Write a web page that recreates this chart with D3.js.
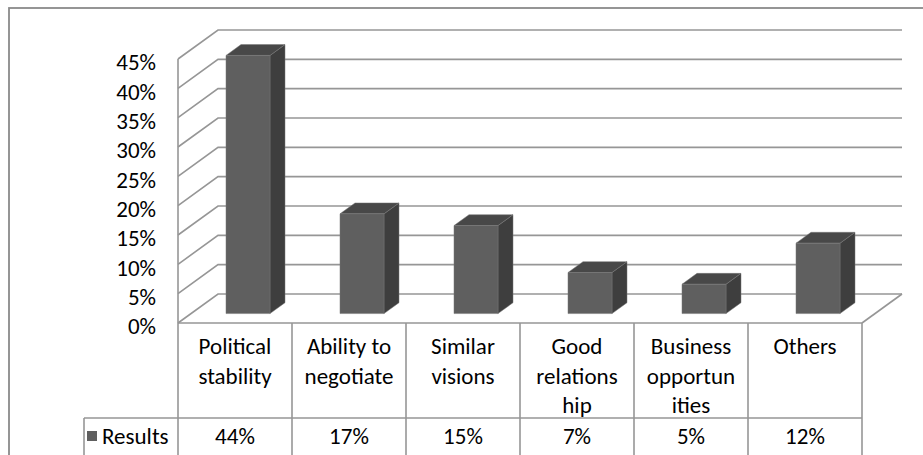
<!DOCTYPE html>
<html>
<head>
<meta charset="utf-8">
<script src="https://cdn.jsdelivr.net/npm/d3@7"></script>
<style>
  body { margin: 0; background: #fff; }
  svg text { font-family: Carlito, Calibri, Lato, "Open Sans", sans-serif; fill: #000; }
</style>
</head>
<body>
<svg id="chart" width="923" height="455"></svg>
<script>
// data
const categories = ['Political stability', 'Ability to negotiate', 'Similar visions',
  'Good relationship', 'Business opportunities', 'Others'];
const categoryLines = [['Political', 'stability'], ['Ability to', 'negotiate'], ['Similar', 'visions'],
  ['Good', 'relations', 'hip'], ['Business', 'opportun', 'ities'], ['Others']];
const results = [0.44, 0.17, 0.15, 0.07, 0.05, 0.12];
const seriesName = 'Results';
const yTicks = [0, 0.05, 0.10, 0.15, 0.20, 0.25, 0.30, 0.35, 0.40, 0.45];

const svg = d3.select('#chart');
const fontSize = 23;

// plot geometry (front plane)
const left = 178, right = 862, floorY = 323, topY = 59;
const depthX = 40, depthY = -29;   // full depth of the 3d box
const grid = '#969696';

const x = d3.scaleBand().domain(categories).range([left, right]);
const y = d3.scaleLinear().domain([0, 0.45]).range([floorY, topY]);
const pct = d3.format('.0%');

// point at front-plane (px, py) pushed back by depth fraction d
const P = (px, py, d) => [px + depthX * d, py + depthY * d];

// outer border
svg.append('rect')
  .attr('x', 9).attr('y', 8).attr('width', 940).attr('height', 470)
  .attr('fill', 'none').attr('stroke', '#8a8a8a').attr('stroke-width', 1.8);

const walls = svg.append('g').attr('stroke', grid).attr('stroke-width', 1.6).attr('fill', 'none');

// back wall gridlines and left wall diagonals
yTicks.forEach(t => {
  const a = P(left, y(t), 0), b = P(left, y(t), 1), c = P(right, y(t), 1);
  walls.append('path').attr('d', d3.line()([a, b, c]));
});
// left front edge
walls.append('line').attr('x1', left).attr('x2', left).attr('y1', y(0.45)).attr('y2', 455);
// floor right edge
walls.append('path').attr('d', d3.line()([P(right, y(0), 0), P(right, y(0), 1)]));

// y labels
svg.append('g').selectAll('text').data(yTicks).join('text')
  .attr('x', 156).attr('y', t => y(t) + 4)
  .attr('dy', '0.32em').attr('text-anchor', 'end')
  .style('font-size', fontSize + 'px')
  .text(t => pct(t));

// bars
const d0 = 0.325, d1 = 0.7, bw = 44;
const bars = svg.append('g').selectAll('g').data(categories).join('g');
bars.each(function (c, i) {
  const g = d3.select(this);
  const cx = x(c) + x.bandwidth() / 2;
  const x0 = cx - bw / 2, x1 = cx + bw / 2;
  const yb = y(0), yt = y(results[i]);
  const fbl = P(x0, yb, d0), fbr = P(x1, yb, d0), ftl = P(x0, yt, d0), ftr = P(x1, yt, d0);
  const bbr = P(x1, yb, d1), btl = P(x0, yt, d1), btr = P(x1, yt, d1);
  g.append('path').attr('d', d3.line()([fbr, bbr, btr, ftr]) + 'Z')
    .attr('fill', '#3e3e3e').attr('stroke', '#777').attr('stroke-width', 0.5);
  g.append('path').attr('d', d3.line()([ftl, ftr, btr, btl]) + 'Z')
    .attr('fill', '#484848').attr('stroke', '#777').attr('stroke-width', 0.5);
  g.append('path').attr('d', d3.line()([fbl, fbr, ftr, ftl]) + 'Z')
    .attr('fill', '#5f5f5f').attr('stroke', '#777').attr('stroke-width', 0.5);
});

// data table
const rowTop = floorY, rowMid = 418, rowBottom = 455;
const table = svg.append('g').attr('stroke', grid).attr('stroke-width', 1.6);
table.append('line').attr('x1', left).attr('x2', right).attr('y1', rowTop).attr('y2', rowTop);
table.append('line').attr('x1', 84).attr('x2', right).attr('y1', rowMid).attr('y2', rowMid);
table.append('line').attr('x1', 84).attr('x2', 84).attr('y1', rowMid).attr('y2', rowBottom);
table.selectAll('.col').data(categories).join('line')
  .attr('x1', c => x(c) + x.bandwidth()).attr('x2', c => x(c) + x.bandwidth())
  .attr('y1', rowTop).attr('y2', rowBottom);

// category labels
svg.append('g').selectAll('text').data(categories).join('text')
  .attr('text-anchor', 'middle')
  .style('font-size', fontSize + 'px')
  .each(function (c, i) {
    d3.select(this).selectAll('tspan').data(categoryLines[i]).join('tspan')
      .attr('x', x(c) + x.bandwidth() / 2)
      .attr('y', (d, j) => 354 + j * 29.5)
      .text(d => d);
  });

// values row
svg.append('g').selectAll('text').data(results).join('text')
  .attr('x', (v, i) => x(categories[i]) + x.bandwidth() / 2)
  .attr('y', 444).attr('text-anchor', 'middle')
  .style('font-size', fontSize + 'px')
  .text(v => pct(v));

// legend key
svg.append('rect').attr('x', 87).attr('y', 431).attr('width', 10).attr('height', 10)
  .attr('fill', '#5f5f5f');
svg.append('text').attr('x', 102).attr('y', 444)
  .style('font-size', fontSize + 'px').text(seriesName);
</script>
</body>
</html>
